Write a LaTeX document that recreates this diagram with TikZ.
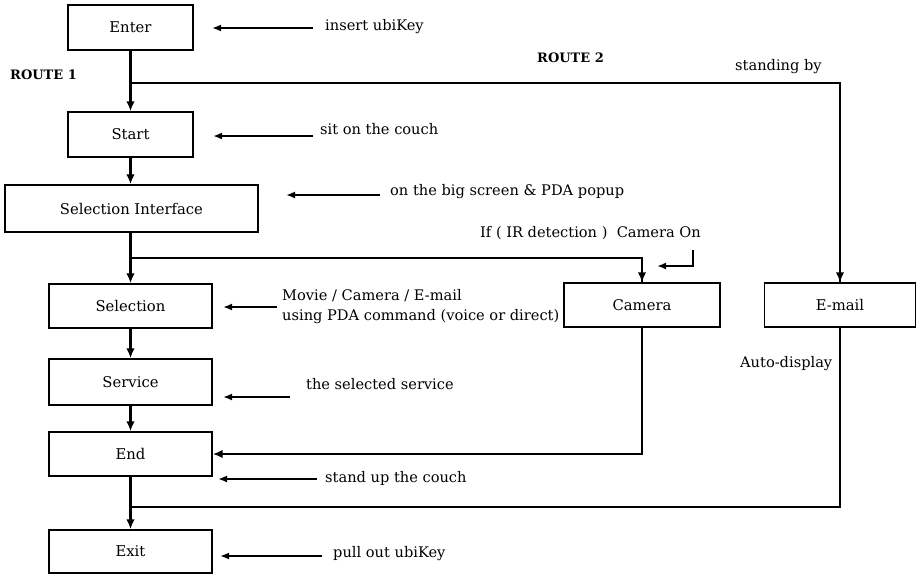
\documentclass[tikz,border=0pt]{standalone}
\usepackage{fontspec}
\setmainfont{DejaVu Serif}
\usetikzlibrary{arrows.meta}
\begin{document}
\begin{tikzpicture}[x=1pt,y=-1pt,
  box/.style={draw,line width=1.4pt,minimum width=#1,inner sep=0pt,font=\fontsize{14.8}{17}\selectfont},
  flow/.style={line width=2.6pt,-{Latex[length=10pt,width=8.5pt]}},
  plain/.style={line width=2.6pt},
  note/.style={line width=1.8pt,-{Latex[length=9pt,width=7pt]}},
  lbl/.style={anchor=west,inner sep=0pt,font=\fontsize{14.6}{20}\selectfont},
  route/.style={anchor=west,inner sep=0pt,font=\fontsize{13}{15}\selectfont\bfseries}]
\useasboundingbox (0,0) rectangle (916,574);
% boxes
\node[box=125pt,minimum height=45pt] (enter) at (130.5,27.5) {Enter};
\node[box=125pt,minimum height=45pt] (start) at (130.5,134.5) {Start};
\node[box=253pt,minimum height=47pt] (selint) at (131.5,208.5) {Selection Interface};
\node[box=163pt,minimum height=44pt] (selection) at (130.5,306) {Selection};
\node[box=163pt,minimum height=46pt] (service) at (130.5,382) {Service};
\node[box=163pt,minimum height=44pt] (end) at (130.5,454) {End};
\node[box=163pt,minimum height=43pt] (exit) at (130.5,551.5) {Exit};
\node[box=156pt,minimum height=44pt] (camera) at (642,305) {Camera};
\node[box=151pt,minimum height=44pt] (email) at (840,305) {E-mail};
% junctions
\coordinate (j1) at (130.5,83);
\coordinate (j2) at (130.5,258);
\coordinate (j3) at (130.5,507);
% main flow
\draw[flow] (enter.south) -- (start.north);
\draw[plain] (j1) -| ([yshift=-1pt]email.north);
\draw[flow] (j1 -| email.north) -- (email.north);
\draw[flow] (start.south) -- (start.south |- selint.north);
\draw[flow] (selint.south -| selection.north) -- (selection.north);
\draw[plain] (j2) -| (camera.north);
\draw[flow] (j2 -| camera.north) -- (camera.north);
\draw[flow] (selection.south) -- (service.north);
\draw[flow] (service.south) -- (end.north);
\draw[flow] (camera.south) |- (end.east);
\draw[plain] (email.south) |- (j3);
\draw[flow] (end.south) -- (exit.north);
% texts
\node[route] (r1) at (10,75) {ROUTE 1};
\node[route] (r2) at (537,58) {ROUTE 2};
\node[lbl] (sb) at (735,67) {standing by};
\node[lbl] (t1) at (325,27) {insert ubiKey};
\node[lbl] (t2) at (320,129) {sit on the couch};
\node[lbl] (t3) at (390,192) {on the big screen \& PDA popup};
\node[lbl,align=left] (t4) at (282,307) {Movie / Camera / E-mail\\using PDA command (voice or direct)};
\node[lbl] (t5) at (306,384) {the selected service};
\node[lbl] (t6) at (325,478) {stand up the couch};
\node[lbl] (t7) at (333,554) {pull out ubiKey};
\node[lbl] (t8) at (480,233) {If ( IR detection )\ \ Camera On};
\node[lbl] (t9) at (740,364) {Auto-display};
% annotation arrows
\coordinate (a1s) at (313,28);  \coordinate (a1e) at (212,28);
\coordinate (a2s) at (313,136); \coordinate (a2e) at (213,136);
\coordinate (a3s) at (380,195); \coordinate (a3e) at (286,195);
\coordinate (a4s) at (277,307); \coordinate (a4e) at (223,307);
\coordinate (a5s) at (290,397); \coordinate (a5e) at (223,397);
\coordinate (a6s) at (317,479); \coordinate (a6e) at (218,479);
\coordinate (a7s) at (322,556); \coordinate (a7e) at (220,556);
\coordinate (a8s) at (693,250); \coordinate (a8e) at (657,266);
\draw[note] (a1s) -- (a1e);
\draw[note] (a2s) -- (a2e);
\draw[note] (a3s) -- (a3e);
\draw[note] (a4s) -- (a4e);
\draw[note] (a5s) -- (a5e);
\draw[note] (a6s) -- (a6e);
\draw[note] (a7s) -- (a7e);
\draw[note] (a8s) |- (a8e);
\end{tikzpicture}
\end{document}
